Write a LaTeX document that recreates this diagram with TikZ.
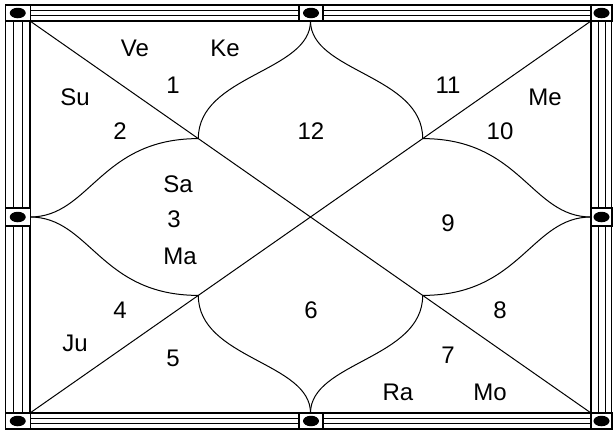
\documentclass[tikz,border=0pt]{standalone}
\usepackage{fontspec}
\setmainfont{Liberation Sans}
\usetikzlibrary{shapes.geometric}
\begin{document}
\begin{tikzpicture}[x=1pt,y=-1pt,
  thick line/.style={line width=1.6pt},
  thin line/.style={line width=1pt},
  frame box/.style={draw, line width=1.4pt, fill=white, inner sep=0pt, rectangle},
  dot/.style={fill=black, ellipse, inner sep=0pt, minimum width=16pt, minimum height=10.5pt},
  lbl/.style={font=\fontsize{24}{28}\selectfont, inner sep=0pt}]
\useasboundingbox (0,0) rectangle (613,434);
% frame coordinates
\coordinate (O1) at (5.5,5);
\coordinate (O2) at (611.5,429);
\coordinate (I1) at (30,21);
\coordinate (I2) at (591,413);
% thin parallel lines in the bands
\draw[thin line] (13.5,5) -- (13.5,429);
\draw[thin line] (22,5) -- (22,429);
\draw[thin line] (598,5) -- (598,429);
\draw[thin line] (605,5) -- (605,429);
\draw[thin line] (5,10.5) -- (612,10.5);
\draw[thin line] (5,15.8) -- (612,15.8);
\draw[thin line] (5,418.3) -- (612,418.3);
\draw[thin line] (5,423.6) -- (612,423.6);
% outer and inner rectangles
\draw[thick line] (O1) rectangle (O2);
\draw[thick line] (I1) rectangle (I2);
% main geometry
\coordinate (TL) at (30,21);
\coordinate (TR) at (591,21);
\coordinate (BL) at (30,413);
\coordinate (BR) at (591,413);
\coordinate (TM) at (310.5,21);
\coordinate (BM) at (310.5,413);
\coordinate (LM) at (30,217);
\coordinate (RM) at (591,217);
\coordinate (A) at (198.3,138.6);
\coordinate (B) at (422.7,138.6);
\coordinate (C) at (198.3,295.4);
\coordinate (D) at (422.7,295.4);
\draw[thin line] (TL) -- (BR);
\draw[thin line] (TR) -- (BL);
% petals
\draw[thin line] (TM) .. controls (310.5,72) and (198.3,75) .. (A);
\draw[thin line] (TM) .. controls (310.5,72) and (422.7,75) .. (B);
\draw[thin line] (BM) .. controls (310.5,362) and (198.3,359) .. (C);
\draw[thin line] (BM) .. controls (310.5,362) and (422.7,359) .. (D);
\draw[thin line] (LM) .. controls (90,217) and (100,138.6) .. (A);
\draw[thin line] (LM) .. controls (90,217) and (100,295.4) .. (C);
\draw[thin line] (RM) .. controls (531,217) and (521,138.6) .. (B);
\draw[thin line] (RM) .. controls (531,217) and (521,295.4) .. (D);
% boxes with dots
\node[frame box, minimum width=25pt, minimum height=16pt] (bTL) at (17.75,13) {};
\node[frame box, minimum width=21pt, minimum height=16pt] (bTR) at (601.5,13) {};
\node[frame box, minimum width=25pt, minimum height=16pt] (bBL) at (17.75,421) {};
\node[frame box, minimum width=21pt, minimum height=16pt] (bBR) at (601.5,421) {};
\node[frame box, minimum width=24pt, minimum height=16pt] (bTM) at (311,13) {};
\node[frame box, minimum width=24pt, minimum height=16pt] (bBM) at (311,421) {};
\node[frame box, minimum width=25pt, minimum height=18pt] (bLM) at (17.75,217) {};
\node[frame box, minimum width=21pt, minimum height=18pt] (bRM) at (601.5,217) {};
\foreach \b in {bTL,bTR,bBL,bBR,bTM,bBM,bLM,bRM}
  \node[dot] (\b d) at (\b.center) {};
% labels
\node[lbl] (ve) at (135,48) {Ve};
\node[lbl] (ke) at (225,48) {Ke};
\node[lbl] (h1) at (173,85) {1};
\node[lbl] (su) at (75,97) {Su};
\node[lbl] (h2) at (120,131) {2};
\node[lbl] (h12) at (311,131) {12};
\node[lbl] (h11) at (448,85) {11};
\node[lbl] (me) at (545,97) {Me};
\node[lbl] (h10) at (500,131) {10};
\node[lbl] (sa) at (178,184) {Sa};
\node[lbl] (h3) at (174,219) {3};
\node[lbl] (ma) at (180,256) {Ma};
\node[lbl] (h9) at (448,223) {9};
\node[lbl] (h4) at (120,310) {4};
\node[lbl] (h6) at (311,310) {6};
\node[lbl] (h8) at (500,310) {8};
\node[lbl] (ju) at (75,343) {Ju};
\node[lbl] (h5) at (173,358) {5};
\node[lbl] (h7) at (448,355) {7};
\node[lbl] (ra) at (398,392) {Ra};
\node[lbl] (mo) at (490,392) {Mo};
\end{tikzpicture}
\end{document}
